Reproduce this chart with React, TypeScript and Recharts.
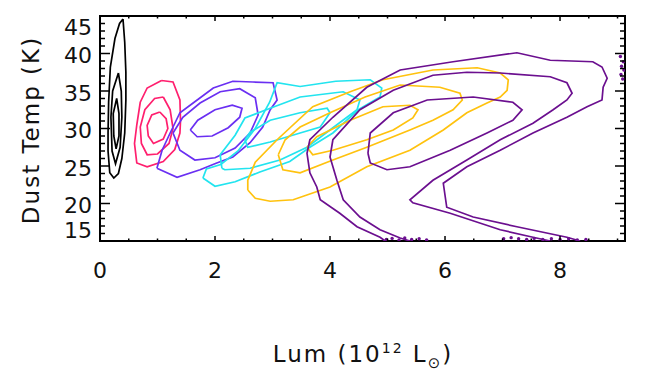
import React from 'react';
import { ScatterChart, Scatter, XAxis, YAxis, ReferenceArea } from 'recharts';

// contour traces: [lum (1e12 Lsun), dust temp (K)]
const blackOuter = [[0.40,44.6],[0.43,41.5],[0.45,37.5],[0.45,33.8],[0.43,29.4],[0.38,26.0],[0.32,24.0],[0.24,23.4],[0.17,24.1],[0.14,27.0],[0.14,29.4],[0.15,33.5],[0.18,38.2],[0.26,42.0],[0.34,44.0],[0.40,44.6]];
const blackMid = [[0.32,37.4],[0.37,35.0],[0.38,31.5],[0.35,27.5],[0.27,25.3],[0.21,27.0],[0.19,31.5],[0.22,35.0],[0.32,37.4]];
const blackInner = [[0.29,34.0],[0.33,32.0],[0.33,29.0],[0.28,27.3],[0.24,29.0],[0.23,32.0],[0.29,34.0]];

const pinkOuter = [[1.07,36.4],[1.27,36.2],[1.39,33.8],[1.40,31.0],[1.39,29.4],[1.30,27.2],[1.10,25.6],[0.82,24.9],[0.64,25.4],[0.60,28.0],[0.64,30.5],[0.70,33.5],[0.82,35.4],[1.07,36.4]];
const pinkMid = [[1.10,34.2],[1.22,32.5],[1.27,30.0],[1.20,28.0],[1.00,26.6],[0.82,26.5],[0.72,28.0],[0.70,30.2],[0.78,32.5],[0.95,34.0],[1.10,34.2]];
const pinkInner = [[1.04,32.2],[1.15,31.3],[1.18,30.0],[1.10,28.6],[0.93,28.0],[0.84,29.0],[0.82,30.4],[0.90,31.8],[1.04,32.2]];

const violetOuter = [[0.99,24.7],[1.34,23.5],[1.74,24.5],[2.03,25.4],[2.31,26.2],[2.61,28.1],[2.83,30.2],[2.96,32.5],[3.08,33.8],[3.01,36.1],[2.66,36.2],[2.31,36.3],[1.97,35.4],[1.69,33.8],[1.39,32.1],[1.22,29.4],[1.08,27.1],[0.99,24.7]];
const violetMid = [[1.27,29.4],[1.39,27.1],[1.65,25.8],[2.00,26.1],[2.35,27.4],[2.61,29.4],[2.75,31.8],[2.70,34.1],[2.43,35.3],[2.09,34.9],[1.74,33.4],[1.44,31.5],[1.27,29.4]];
const violetInner = [[1.57,29.8],[1.69,28.9],[1.95,29.0],[2.23,30.1],[2.43,31.5],[2.47,32.7],[2.30,33.1],[2.00,32.5],[1.70,31.1],[1.57,29.8]];

const cyanOuter = [[1.79,23.4],[2.00,22.3],[2.35,22.9],[2.78,24.2],[3.30,25.6],[3.65,27.5],[4.05,29.4],[4.49,32.5],[4.87,34.2],[4.90,35.4],[4.70,36.5],[4.10,36.3],[3.48,35.6],[3.08,36.1],[2.95,33.5],[2.70,30.0],[2.40,27.0],[2.10,25.2],[1.85,24.6],[1.79,23.4]];
const cyanMid = [[2.12,24.7],[2.09,26.5],[2.35,29.1],[2.52,31.4],[2.96,32.7],[3.48,34.2],[4.23,34.9],[4.52,33.8],[4.47,32.5],[4.05,30.1],[3.60,27.5],[3.13,25.8],[2.61,24.7],[2.17,24.5],[2.12,24.7]];
const cyanInner = [[2.52,28.5],[2.61,29.5],[2.96,31.1],[3.48,32.1],[3.95,32.7],[4.00,32.1],[3.83,30.2],[3.48,29.4],[2.96,28.2],[2.57,27.5],[2.52,28.5]];

const yellowOuter = [[2.57,21.8],[2.70,20.7],[2.96,20.3],[3.36,20.5],[4.00,22.2],[4.64,24.9],[5.39,27.1],[5.97,29.8],[6.38,32.1],[6.73,33.4],[6.96,34.2],[7.08,35.1],[7.10,36.5],[6.96,37.4],[6.56,38.1],[5.79,37.8],[4.92,36.5],[4.35,34.9],[3.70,32.9],[3.08,28.5],[2.70,25.5],[2.57,23.1],[2.57,21.8]];
const yellowMid = [[3.10,26.5],[3.22,28.5],[3.48,30.2],[4.00,32.1],[4.61,34.2],[5.22,35.8],[5.91,35.5],[6.26,34.7],[6.30,33.8],[6.14,32.5],[5.79,31.1],[5.39,29.8],[4.64,27.5],[4.05,25.8],[3.48,24.1],[3.18,24.5],[3.10,26.5]];
const yellowInner = [[3.60,27.5],[3.77,28.9],[4.35,31.1],[4.92,32.9],[5.39,33.1],[5.53,32.5],[5.44,31.4],[5.10,29.8],[4.64,28.5],[4.05,27.1],[3.70,26.5],[3.60,27.5]];

const purpleOuter = [[4.96,15.0],[4.87,15.5],[4.47,16.9],[4.17,18.7],[3.83,20.5],[3.77,22.2],[3.65,24.1],[3.60,26.7],[3.65,28.5],[4.05,31.5],[4.64,35.5],[5.22,37.8],[6.14,38.9],[7.25,40.1],[7.83,39.1],[8.57,38.9],[8.73,38.2],[8.82,36.7],[8.75,35.5],[8.73,33.8],[8.47,32.9],[8.12,31.5],[7.53,29.4],[6.96,27.1],[6.38,24.9],[5.97,22.7],[6.03,19.5],[6.49,18.2],[7.25,16.9],[8.12,15.5],[8.35,15.0]];
const purpleMid = [[5.39,15.0],[5.22,15.4],[4.87,16.5],[4.52,18.2],[4.23,20.5],[4.12,23.1],[4.00,26.2],[4.05,28.5],[4.52,32.5],[5.10,35.1],[5.79,37.1],[6.38,37.5],[6.96,37.4],[7.83,36.9],[8.12,36.1],[8.21,34.7],[8.12,33.8],[7.88,32.5],[7.53,30.7],[6.96,28.5],[6.38,25.8],[5.79,23.1],[5.39,20.5],[5.44,20.1],[6.09,18.7],[6.96,16.5],[7.53,15.5],[7.83,15.0]];
const purpleInner = [[4.66,26.7],[4.70,29.4],[5.10,32.1],[5.69,33.8],[6.49,34.2],[7.18,33.5],[7.34,32.5],[7.18,31.1],[6.73,29.4],[6.09,27.1],[5.39,24.9],[4.99,24.5],[4.70,25.4],[4.66,26.7]];
const purpleSpeckle = [[4.98,15.2],[5.08,15.35],[5.2,15.15],[5.3,15.4],[5.42,15.2],[5.55,15.3],[5.68,15.15],[7.02,15.3],[7.15,15.45],[7.28,15.3],[7.42,15.2],[7.55,15.35],[7.7,15.2],[7.85,15.3],[8.0,15.2],[8.15,15.3],[8.3,15.15],[8.45,15.2],[9.05,39.6],[9.1,38.9],[9.07,38.3],[9.11,37.8],[9.06,37.2],[9.09,36.6]];

const xTicks = [0, 0.5, 1, 1.5, 2, 2.5, 3, 3.5, 4, 4.5, 5, 5.5, 6, 6.5, 7, 7.5, 8, 8.5, 9];
const xLabels = [0, 2, 4, 6, 8];
const yTicks = [15, 16, 17, 18, 19, 20, 21, 22, 23, 24, 25, 26, 27, 28, 29, 30, 31, 32, 33, 34, 35, 36, 37, 38, 39, 40, 41, 42, 43, 44, 45];
const yLabels = [15, 20, 25, 30, 35, 40, 45];

const W = 654;
const H = 388;
const TOP = 16;
const RIGHT = 625;
const FONT = '"DejaVu Sans", sans-serif';

const pts = (a: number[][]) => a.map(([x, t]) => ({ x, t }));

const contours = [
  { d: blackOuter, c: '#000000' }, { d: blackMid, c: '#000000' }, { d: blackInner, c: '#000000' },
  { d: pinkOuter, c: '#ff1f6e' }, { d: pinkMid, c: '#ff1f6e' }, { d: pinkInner, c: '#ff1f6e' },
  { d: violetOuter, c: '#6a2ff2' }, { d: violetMid, c: '#6a2ff2' }, { d: violetInner, c: '#6a2ff2' },
  { d: cyanOuter, c: '#22e4ef' }, { d: cyanMid, c: '#22e4ef' }, { d: cyanInner, c: '#22e4ef' },
  { d: yellowOuter, c: '#ffc20e' }, { d: yellowMid, c: '#ffc20e' }, { d: yellowInner, c: '#ffc20e' },
  { d: purpleOuter, c: '#6b0f8f' }, { d: purpleMid, c: '#6b0f8f' }, { d: purpleInner, c: '#6b0f8f' },
];

const XTick = (props: any) => {
  const { x, y, payload } = props;
  const major = xLabels.includes(payload.value);
  const len = major ? 5 : 2.5;
  return (
    <g>
      <line x1={x} x2={x} y1={y} y2={y - len} stroke="#000" strokeWidth={1.5} />
      <line x1={x} x2={x} y1={TOP} y2={TOP + len} stroke="#000" strokeWidth={1.5} />
      {major && (
        <text x={x} y={y + 37} textAnchor="middle" fontSize={22} fontFamily={FONT} fill="#111">
          {payload.value}
        </text>
      )}
    </g>
  );
};

const YTick = (props: any) => {
  const { x, y, payload } = props;
  const major = yLabels.includes(payload.value);
  const len = major ? 10 : 5;
  // end labels get pushed inside the box, like the original
  let dy = 2;
  if (payload.value === 45) dy = 11;
  if (payload.value === 15) dy = -11;
  return (
    <g>
      <line x1={x} x2={x + len} y1={y} y2={y} stroke="#000" strokeWidth={1.5} />
      <line x1={RIGHT} x2={RIGHT - len} y1={y} y2={y} stroke="#000" strokeWidth={1.5} />
      {major && (
        <text x={x - 8} y={y + dy} textAnchor="end" dominantBaseline="central" fontSize={22} fontFamily={FONT} fill="#111">
          {payload.value}
        </text>
      )}
    </g>
  );
};

const noDot = () => <g />;
const speck = (p: any) => <circle cx={p.cx} cy={p.cy} r={1.7} fill="#6b0f8f" />;

export default function App() {
  return (
    <div style={{ position: 'absolute', left: 0, top: 0, width: W, height: H, background: '#fff' }}>
      <ScatterChart width={W} height={H} margin={{ top: TOP, right: W - RIGHT, bottom: 0, left: 0 }}>
        <XAxis
          type="number"
          dataKey="x"
          domain={[0, 9.13]}
          ticks={xTicks}
          interval={0}
          tick={XTick}
          tickLine={false}
          axisLine={false}
          tickSize={0}
          tickMargin={0}
          height={147}
          allowDataOverflow
        />
        <YAxis
          type="number"
          dataKey="t"
          domain={[15, 45]}
          ticks={yTicks}
          interval={0}
          tick={YTick}
          tickLine={false}
          axisLine={false}
          tickSize={0}
          tickMargin={0}
          width={100}
          allowDataOverflow
        />
        {contours.map((s, i) => (
          <Scatter
            key={i}
            data={pts(s.d)}
            line={{ stroke: s.c, strokeWidth: 1.7 }}
            shape={noDot}
            fill={s.c}
            isAnimationActive={false}
          />
        ))}
        <Scatter data={pts(purpleSpeckle)} fill="#6b0f8f" shape={speck} isAnimationActive={false} />
        <ReferenceArea x1={0} x2={9.13} y1={15} y2={45} fill="none" fillOpacity={0} stroke="#000" strokeWidth={2} />
      </ScatterChart>
      <div
        style={{
          position: 'absolute', left: 31, top: 130, transform: 'translate(-50%, -50%) rotate(-90deg)',
          whiteSpace: 'nowrap', fontFamily: FONT, fontSize: 23, letterSpacing: 2, color: '#111',
        }}
      >
        Dust Temp (K)
      </div>
      <div
        style={{
          position: 'absolute', left: 363, top: 356, transform: 'translate(-50%, -50%)',
          whiteSpace: 'nowrap', fontFamily: FONT, fontSize: 23, letterSpacing: 2, color: '#111',
        }}
      >
        Lum (10<sup style={{ fontSize: 14 }}>12</sup> L<sub style={{ fontSize: 15 }}>⊙</sub>)
      </div>
    </div>
  );
}
